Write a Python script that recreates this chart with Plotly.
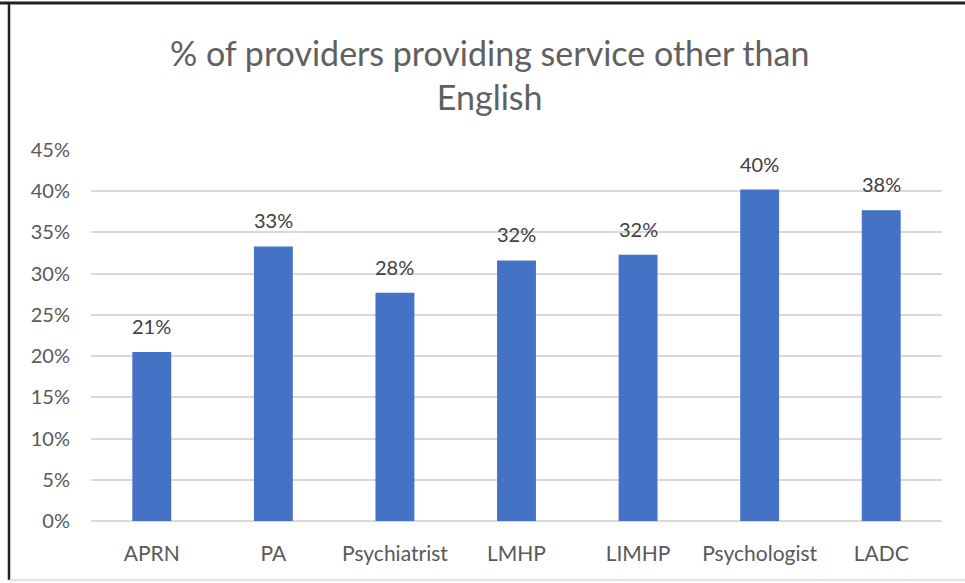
import plotly.graph_objects as go

categories = ["APRN", "PA", "Psychiatrist", "LMHP", "LIMHP", "Psychologist", "LADC"]
values = [0.205, 0.333, 0.277, 0.316, 0.323, 0.402, 0.377]
labels = ["21%", "33%", "28%", "32%", "32%", "40%", "38%"]
y_ticks = [0, 0.05, 0.10, 0.15, 0.20, 0.25, 0.30, 0.35, 0.40, 0.45]
y_tick_text = ["0%", "5%", "10%", "15%", "20%", "25%", "30%", "35%", "40%", "45%"]
title_text = "% of providers providing service other than<br>English"

W, H = 965, 583
L, R, T, B = 91, 23, 150, 62
pw, ph = W - L - R, H - T - B

def px(x):
    return (x - L) / pw

def py(y):
    return (H - B - y) / ph

fig = go.Figure()
fig.add_trace(go.Bar(
    x=categories, y=values,
    marker=dict(color="#4472C4", line=dict(width=0)),
    hoverinfo="skip",
))

for c, v, t in zip(categories, values, labels):
    fig.add_annotation(x=c, y=v, text=t, showarrow=False, yshift=26,
                       font=dict(family="Lato", size=20, color="#404040"))

fig.add_annotation(xref="paper", yref="paper", x=px(489), y=py(74), text=title_text,
                   showarrow=False, xanchor="center", yanchor="middle",
                   font=dict(family="Lato", size=34, color="#606060"))

# chart frame
fig.add_shape(type="line", xref="paper", yref="paper", x0=px(0), x1=px(965), y0=py(3), y1=py(3),
              line=dict(color="#222222", width=3))
fig.add_shape(type="line", xref="paper", yref="paper", x0=px(9), x1=px(9), y0=py(3), y1=py(580),
              line=dict(color="#222222", width=2.5))
fig.add_shape(type="line", xref="paper", yref="paper", x0=px(9), x1=px(965), y0=py(580), y1=py(580),
              line=dict(color="#d9d9d9", width=1.5))

fig.update_layout(
    width=W, height=H,
    margin=dict(l=L, r=R, t=T, b=B),
    paper_bgcolor="white", plot_bgcolor="white",
    bargap=0.68,
    showlegend=False,
    xaxis=dict(
        showgrid=False, showline=False, zeroline=False,
        ticks="", ticklabelstandoff=18,
        tickfont=dict(family="Lato", size=21, color="#595959"),
    ),
    yaxis=dict(
        range=[0, 0.45], tickvals=y_ticks, ticktext=y_tick_text,
        showgrid=True, gridcolor="#D9D9D9", gridwidth=1.5,
        zeroline=True, zerolinecolor="#D9D9D9", zerolinewidth=1.5,
        showline=False, ticks="", ticklabelstandoff=20,
        tickfont=dict(family="Lato", size=20, color="#595959"),
    ),
)

fig.write_html("out.html", config={"displayModeBar": False},
               post_script="document.body.style.margin='0';document.body.style.padding='0';")
